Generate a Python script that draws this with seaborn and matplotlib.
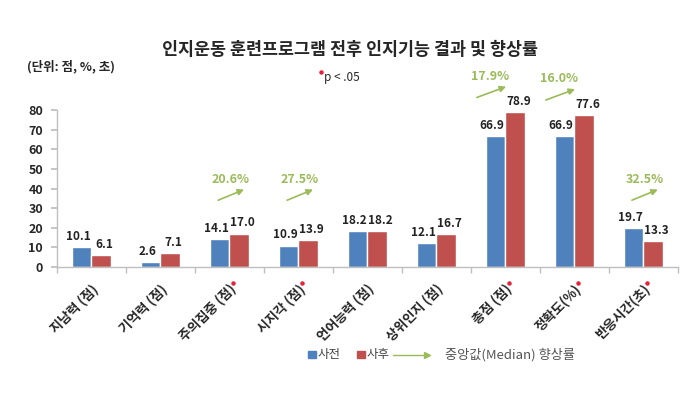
import numpy as np
import pandas as pd
import matplotlib.pyplot as plt
import matplotlib.transforms as mtransforms
from matplotlib.patches import Rectangle
import seaborn as sns

# data
categories = ["지남력 (점)", "기억력 (점)", "주의집중 (점)", "시지각 (점)", "언어능력 (점)",
              "상위인지 (점)", "총점 (점)", "정확도(%)", "반응시간(초)"]
pre = [10.1, 2.6, 14.1, 10.9, 18.2, 12.1, 66.9, 66.9, 19.7]
post = [6.1, 7.1, 17.0, 13.9, 18.2, 16.7, 78.9, 77.6, 13.3]
median_rate = [None, None, "20.6%", "27.5%", None, None, "17.9%", "16.0%", "32.5%"]
significant = [False, False, True, True, False, False, True, True, True]

BLUE = "#4F81BD"
RED = "#C0504D"
GREEN = "#9BBB59"

df = pd.DataFrame({
    "cat": categories * 2,
    "value": pre + post,
    "when": ["사전"] * len(categories) + ["사후"] * len(categories),
})

sns.set_theme(style="white")
plt.rcParams["font.family"] = ["Noto Sans CJK KR", "DejaVu Sans"]

fig = plt.figure(figsize=(6.99, 3.93), dpi=100)
ax = fig.add_axes([0.0815, 0.3206, 0.888, 0.3995])

sns.barplot(data=df, x="cat", y="value", hue="when", order=categories,
            palette=[BLUE, RED], width=0.56, gap=0, ax=ax, legend=False,
            saturation=1)

# value labels, pushed apart a little so pairs don't collide
for cont, dx in zip(ax.containers, [-2.5, 2.5]):
    for bar in cont:
        h = bar.get_height()
        ax.annotate(f"{h:.1f}", (bar.get_x() + bar.get_width() / 2, h),
                    xytext=(dx, 3), textcoords="offset points",
                    ha="center", va="bottom", fontsize=8.5, fontweight="bold",
                    color="#222222", annotation_clip=False)

ax.set_ylim(0, 80)
ax.set_xlim(-0.5, len(categories) - 0.5)
ax.set_yticks(range(0, 81, 10))
ax.set_xlabel("")
ax.set_ylabel("")
for lab in ax.get_yticklabels():
    lab.set_fontweight("bold")
    lab.set_fontsize(9)

ax.set_xticks(range(len(categories)))
ax.set_xticklabels(categories, rotation=45, ha="right", rotation_mode="anchor",
                   fontsize=9.5, fontweight="bold")
ax.tick_params(axis="x", which="major", length=0, pad=11)
ax.set_xticks(np.arange(-0.5, len(categories)), minor=True)
ax.tick_params(axis="x", which="minor", length=4, color="#BFBFBF", bottom=True)
ax.tick_params(axis="y", length=4, color="#BFBFBF", left=True, pad=6)

for s in ["top", "right"]:
    ax.spines[s].set_visible(False)
for s in ["left", "bottom"]:
    ax.spines[s].set_color("#BFBFBF")
    ax.spines[s].set_linewidth(1)

# green median improvement arrows
for i, rate in enumerate(median_rate):
    if rate is None:
        continue
    top = max(pre[i], post[i])
    if top < 50:
        y0, x0, x1, xt = 33.5, i - 0.2, i + 0.25, i + 0.02
    else:
        y0, x0, x1, xt = top + 7, i - 0.45, i + 0.05, i - 0.22
    ax.annotate("", xy=(x1, y0 + 6.5), xytext=(x0, y0),
                arrowprops=dict(arrowstyle="-|>", color=GREEN, lw=1.2,
                                mutation_scale=9),
                annotation_clip=False)
    ax.text(xt, y0 + 8, rate, color=GREEN, fontsize=9,
            fontweight="bold", ha="center", va="bottom", clip_on=False)

# significance dots beside category labels
trans = mtransforms.blended_transform_factory(ax.transData, ax.transAxes)
for i, sig in enumerate(significant):
    if sig:
        ax.plot(i + 0.05, -0.1, marker="o", markersize=2.2, color="#E8203A",
                transform=trans, clip_on=False)

# titles and notes
fig.text(0.5, 0.873, "인지운동 훈련프로그램 전후 인지기능 결과 및 향상률",
         ha="center", va="center", fontsize=12.5, fontweight="bold")
fig.text(0.038, 0.83, "(단위: 점, %, 초)", ha="left", va="center",
         fontsize=9, fontweight="bold")
fig.add_artist(plt.Line2D([0.459], [0.818], marker="o", markersize=2.2,
                          color="#E8203A", transform=fig.transFigure))
fig.text(0.463, 0.804, "p < .05", ha="left", va="center", fontsize=8.5)

# legend drawn by hand
fig.patches.append(Rectangle((0.441, 0.089), 0.011, 0.018, color=BLUE,
                             transform=fig.transFigure, figure=fig))
fig.text(0.455, 0.097, "사전", ha="left", va="center", fontsize=9,
         color="#444444")
fig.patches.append(Rectangle((0.511, 0.089), 0.011, 0.018, color=RED,
                             transform=fig.transFigure, figure=fig))
fig.text(0.525, 0.097, "사후", ha="left", va="center", fontsize=9,
         color="#444444")
fig.add_artist(plt.Line2D([0.562, 0.608], [0.097, 0.097], color=GREEN, lw=1,
                          transform=fig.transFigure))
fig.add_artist(plt.Line2D([0.611], [0.097], marker=">", markersize=5,
                          color=GREEN, transform=fig.transFigure))
fig.text(0.636, 0.097, "중앙값(Median) 향상률", ha="left", va="center",
         fontsize=9.5, color="#555555")

fig.savefig("out.png", dpi=100)
